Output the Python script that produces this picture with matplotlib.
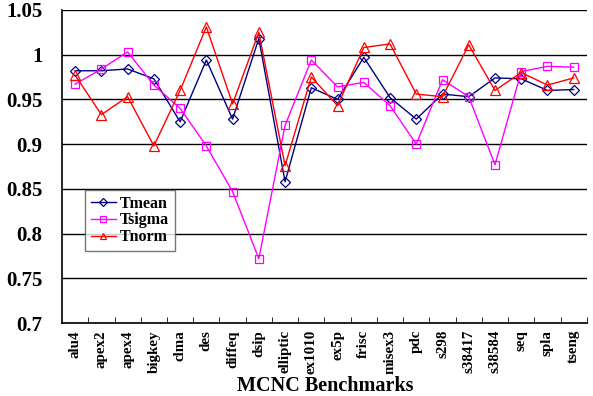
import numpy as np
import matplotlib.pyplot as plt

benchmarks = ['alu4', 'apex2', 'apex4', 'bigkey', 'clma', 'des', 'diffeq', 'dsip',
              'elliptic', 'ex1010', 'ex5p', 'frisc', 'misex3', 'pdc', 's298',
              's38417', 's38584', 'seq', 'spla', 'tseng']

tmean = [0.982, 0.982, 0.984, 0.973, 0.925, 0.994, 0.928, 1.018, 0.858, 0.963,
         0.950, 0.997, 0.952, 0.928, 0.956, 0.953, 0.974, 0.973, 0.960, 0.961]
tsigma = [0.967, 0.984, 1.003, 0.966, 0.940, 0.898, 0.847, 0.772, 0.921, 0.994,
          0.964, 0.969, 0.943, 0.900, 0.972, 0.953, 0.877, 0.981, 0.987, 0.986]
tnorm = [0.977, 0.933, 0.953, 0.898, 0.960, 1.031, 0.945, 1.025, 0.876, 0.975,
         0.943, 1.008, 1.012, 0.956, 0.953, 1.011, 0.960, 0.980, 0.966, 0.974]

yticks = [0.7, 0.75, 0.8, 0.85, 0.9, 0.95, 1.0, 1.05]
ytick_labels = ['0.7', '0.75', '0.8', '0.85', '0.9', '0.95', '1', '1.05']

plt.rcParams['font.family'] = ['Liberation Serif', 'DejaVu Serif']
plt.rcParams['font.weight'] = 'bold'

fig = plt.figure(figsize=(5.93, 3.96), dpi=100)
ax = fig.add_axes([0.1046, 0.184, 0.885, 0.791])

x = np.arange(len(benchmarks))
ax.plot(x, tmean, color='#000080', marker='D', markersize=5.5, mfc='none',
        mew=0.9, lw=1.0, label='Tmean')
ax.plot(x, tsigma, color='#FF00FF', marker='s', markersize=6, mfc='none',
        mew=0.9, lw=1.0, label='Tsigma')
ax.plot(x, tnorm, color='#FF0000', marker='^', markersize=7, mfc='none',
        mew=0.9, lw=1.0, label='Tnorm')

ax.set_xlim(-0.5, len(benchmarks) - 0.5)
ax.set_ylim(0.7, 1.05)
ax.set_yticks(yticks)
ax.set_yticklabels(ytick_labels, fontsize=15, fontweight='bold')
ax.tick_params(axis='y', length=0, pad=14)
ax.yaxis.grid(True, color='black', lw=1.0)
ax.set_axisbelow(True)

ax.set_xticks(x)
ax.set_xticklabels(benchmarks, rotation=90, fontsize=10.8, fontweight='bold')
ax.set_xticks(np.arange(len(benchmarks)) + 0.5, minor=True)
ax.tick_params(axis='x', which='major', length=0, pad=5)
ax.tick_params(axis='x', which='minor', direction='in', length=4, color='black')

for s in ['top', 'right']:
    ax.spines[s].set_visible(False)
ax.spines['left'].set_linewidth(1.2)
ax.spines['bottom'].set_linewidth(1.2)

# x label sits just under the tick labels, as in the original
fig.text(0.548, 0.026, 'MCNC Benchmarks', fontsize=14.5, fontweight='bold',
         ha='center', va='center')

leg = ax.legend(loc='upper left', bbox_to_anchor=(0.044, 0.425), fontsize=11.5,
                frameon=True, fancybox=False, edgecolor='#555555',
                handlelength=1.6, borderpad=0.35, labelspacing=0.05,
                handletextpad=0.25, markerscale=0.7, borderaxespad=0)
leg.get_frame().set_linewidth(1.0)
for t in leg.get_texts():
    t.set_fontweight('bold')

fig.savefig('out.png', dpi=100)
